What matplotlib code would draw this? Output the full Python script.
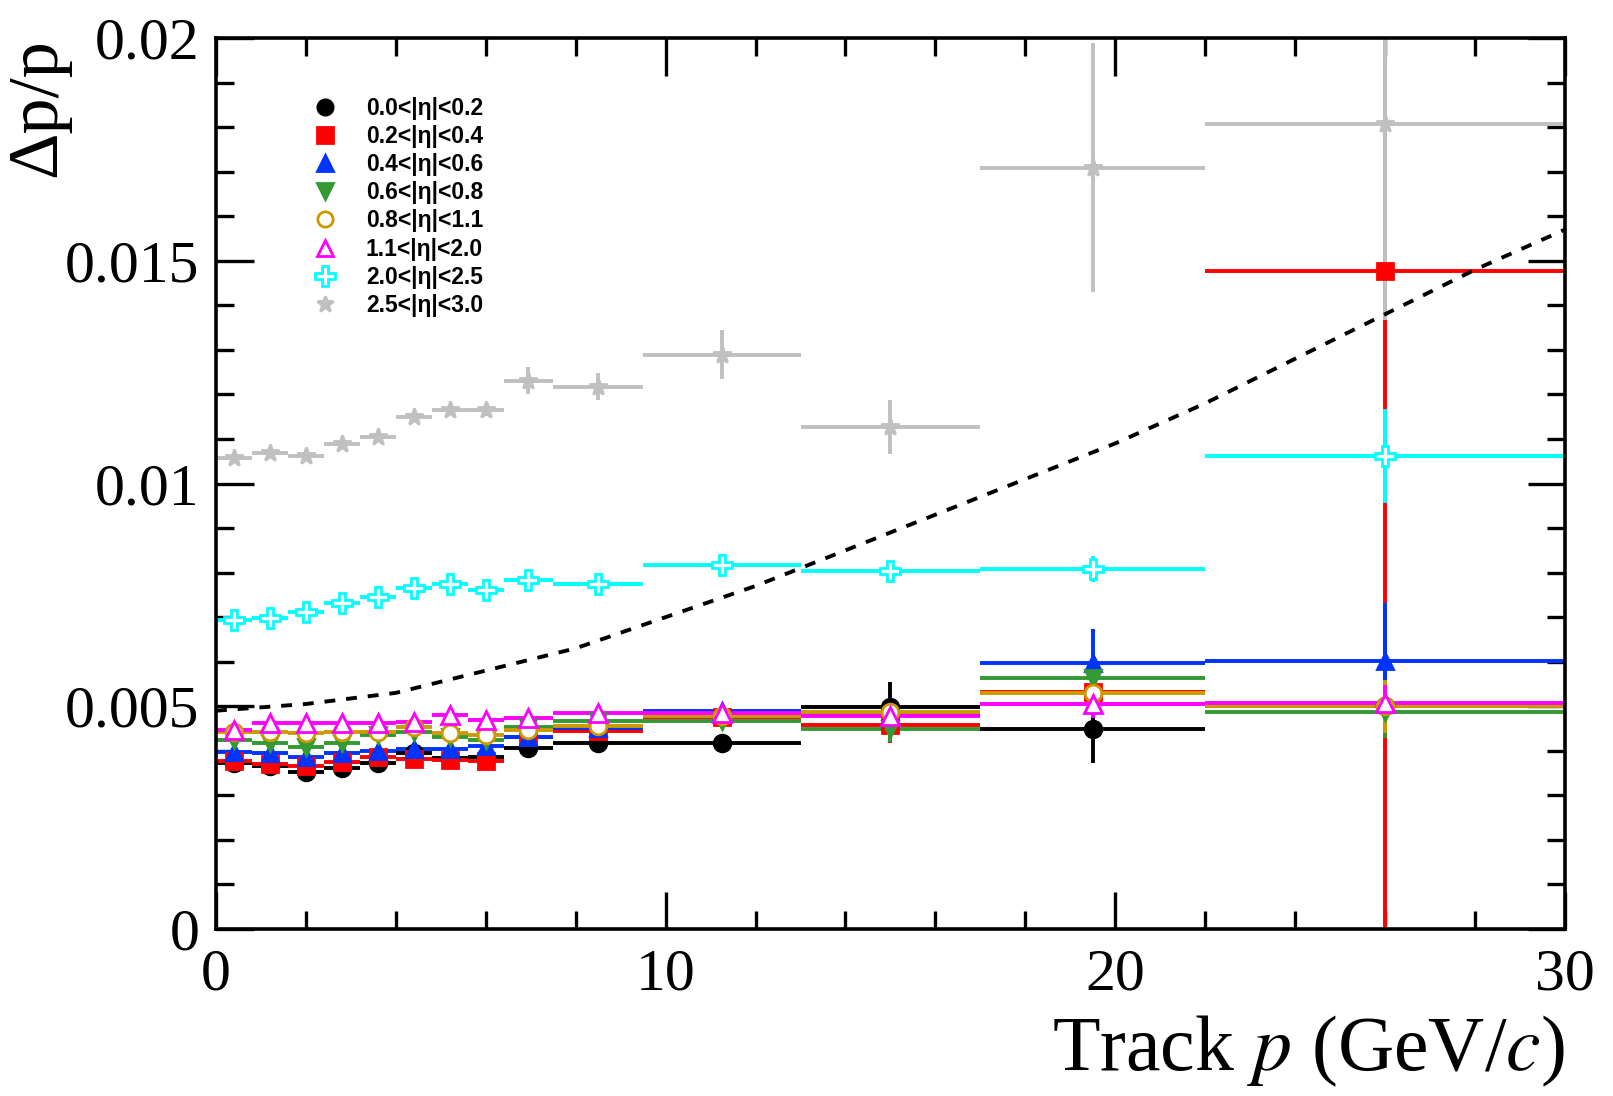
import numpy as np
import matplotlib
matplotlib.use('Agg')
import matplotlib.pyplot as plt
from matplotlib.lines import Line2D

# bin edges in track momentum (GeV/c)
bin_lo = [0.0, 0.8, 1.6, 2.4, 3.2, 4.0, 4.8, 5.6, 6.4, 7.5, 9.5, 13.0, 17.0, 22.0]
bin_hi = [0.8, 1.6, 2.4, 3.2, 4.0, 4.8, 5.6, 6.4, 7.5, 9.5, 13.0, 17.0, 22.0, 30.0]

labels = ['0.0<|η|<0.2', '0.2<|η|<0.4', '0.4<|η|<0.6', '0.6<|η|<0.8',
          '0.8<|η|<1.1', '1.1<|η|<2.0', '2.0<|η|<2.5', '2.5<|η|<3.0']

eta00 = [0.00372, 0.00366, 0.00352, 0.00362, 0.00372, 0.00395, 0.00383, 0.00385, 0.00406, 0.00418, 0.00418, 0.00499, 0.00449, 0.00501]
eta02 = [0.00376, 0.00371, 0.00366, 0.00374, 0.00386, 0.00381, 0.00379, 0.00378, 0.00430, 0.00445, 0.00476, 0.00457, 0.00533, 0.01478]
eta04 = [0.00398, 0.00394, 0.00387, 0.00394, 0.00400, 0.00403, 0.00405, 0.00411, 0.00432, 0.00452, 0.00490, 0.00482, 0.00596, 0.00601]
eta06 = [0.00424, 0.00418, 0.00409, 0.00417, 0.00435, 0.00443, 0.00432, 0.00425, 0.00454, 0.00466, 0.00466, 0.00449, 0.00563, 0.00488]
eta08 = [0.00443, 0.00443, 0.00439, 0.00443, 0.00443, 0.00454, 0.00439, 0.00435, 0.00447, 0.00456, 0.00479, 0.00486, 0.00530, 0.00500]
eta11 = [0.00447, 0.00462, 0.00462, 0.00462, 0.00462, 0.00465, 0.00480, 0.00469, 0.00473, 0.00484, 0.00484, 0.00478, 0.00504, 0.00508]
eta20 = [0.00694, 0.00697, 0.00712, 0.00731, 0.00746, 0.00766, 0.00774, 0.00761, 0.00783, 0.00774, 0.00816, 0.00803, 0.00808, 0.01062]
eta25 = [0.01057, 0.01068, 0.01062, 0.01088, 0.01105, 0.01149, 0.01164, 0.01164, 0.01231, 0.01217, 0.01289, 0.01127, 0.01709, 0.01808]

err00 = [0.00004, 0.00004, 0.00004, 0.00004, 0.00005, 0.00005, 0.00005, 0.00006, 0.00006, 0.00007, 0.0001, 0.00055, 0.00076, 0.0004]
err02 = [0.00004, 0.00004, 0.00004, 0.00004, 0.00005, 0.00005, 0.00005, 0.00006, 0.00006, 0.00008, 0.0001, 0.0004, 0.0003, 0.0149]
err04 = [0.00004, 0.00004, 0.00004, 0.00004, 0.00005, 0.00005, 0.00005, 0.00006, 0.00006, 0.00008, 0.0001, 0.0003, 0.00077, 0.0013]
err06 = [0.00004, 0.00004, 0.00004, 0.00004, 0.00005, 0.00005, 0.00005, 0.00006, 0.00006, 0.00008, 0.0001, 0.0003, 0.0005, 0.0006]
err08 = [0.00004, 0.00004, 0.00004, 0.00004, 0.00005, 0.00005, 0.00005, 0.00006, 0.00006, 0.00008, 0.0001, 0.0003, 0.0004, 0.0006]
err11 = [0.00004, 0.00004, 0.00004, 0.00004, 0.00005, 0.00005, 0.00005, 0.00006, 0.00006, 0.00008, 0.0001, 0.0002, 0.0003, 0.0004]
err20 = [0.00008, 0.00008, 0.00008, 0.00008, 0.00008, 0.00009, 0.00009, 0.0001, 0.0001, 0.0001, 0.00012, 0.00015, 0.0003, 0.00105]
err25 = [0.00008, 0.00008, 0.00008, 0.0001, 0.0001, 0.0001, 0.0001, 0.00012, 0.0003, 0.0003, 0.00055, 0.0006, 0.0028, 0.0044]

# expected resolution curve (dashed)
curve_p = [0, 2, 4, 6, 8, 10, 12, 14, 16, 18, 20, 22, 24, 26, 28, 30]
curve_res = [0.0049, 0.00505, 0.0053, 0.0058, 0.0063, 0.0070, 0.0077, 0.0085, 0.0093,
             0.0101, 0.0109, 0.0118, 0.0128, 0.0138, 0.0148, 0.0157]

values = [eta00, eta02, eta04, eta06, eta08, eta11, eta20, eta25]
errors = [err00, err02, err04, err06, err08, err11, err20, err25]
colors = ['black', '#ff0000', '#0033ff', '#339933', '#cc9900', '#ff00ff', '#00ffff', '#c0c0c0']
markers = ['o', 's', '^', 'v', 'o', '^', 'P', '*']
filled = [True, True, True, True, False, False, False, True]
msizes = [12, 12, 12, 12, 12, 13, 15, 13]

plt.rcParams['font.family'] = ['Liberation Serif', 'DejaVu Serif']
plt.rcParams['mathtext.fontset'] = 'stix'

lo = np.array(bin_lo)
hi = np.array(bin_hi)
xc = (lo + hi) / 2
xerr = (hi - lo) / 2

fig = plt.figure(figsize=(16.13, 10.96), dpi=100)
ax = fig.add_axes([0.1339, 0.1524, 0.8363, 0.8129])

handles = []
for v, e, c, m, f, ms in zip(values, errors, colors, markers, filled, msizes):
    fc = c if f else 'white'
    ax.errorbar(xc, v, xerr=xerr, yerr=e, fmt=m, color=c, mfc=fc, mec=c,
                ms=ms, mew=2, elinewidth=2.8, capsize=0)
    handles.append(Line2D([], [], ls='none', marker=m, color=c, mfc=fc, mec=c,
                          ms=ms - 1, mew=2))

ax.plot(curve_p, curve_res, color='black', lw=2.8, ls=(0, (2.8, 2.8)))

ax.set_xlim(0, 30)
ax.set_ylim(0, 0.02)
ax.set_xticks([0, 10, 20, 30])
ax.set_xticks(np.arange(0, 31, 2), minor=True)
ax.set_yticks([0, 0.005, 0.01, 0.015, 0.02])
ax.set_yticks(np.arange(0, 0.0201, 0.001), minor=True)
ax.set_xticklabels(['0', '10', '20', '30'])
ax.set_yticklabels(['0', '0.005', '0.01', '0.015', '0.02'])
ax.tick_params(which='both', direction='in', top=True, right=True, width=2.4, labelsize=43)
ax.tick_params(which='major', length=27)
ax.tick_params(which='minor', length=13)
ax.tick_params(axis='x', pad=14)
ax.tick_params(axis='y', pad=12)
for s in ax.spines.values():
    s.set_linewidth(2.6)

ax.text(1.0, -0.095, 'Track $p$ (GeV/$c$)', transform=ax.transAxes, ha='right', va='top',
        fontsize=56)
ax.text(-0.156, 1.0, 'Δp/p', transform=ax.transAxes, rotation=90, ha='left', va='top',
        fontsize=52)

ax.legend(handles, labels, loc='upper left', bbox_to_anchor=(0.072, 0.934), frameon=False,
          prop={'family': 'Liberation Sans', 'weight': 'bold', 'size': 16.5},
          labelspacing=0.225, handletextpad=1.3, handlelength=1.0, borderpad=0, borderaxespad=0)

fig.savefig('out.png', dpi=100)
